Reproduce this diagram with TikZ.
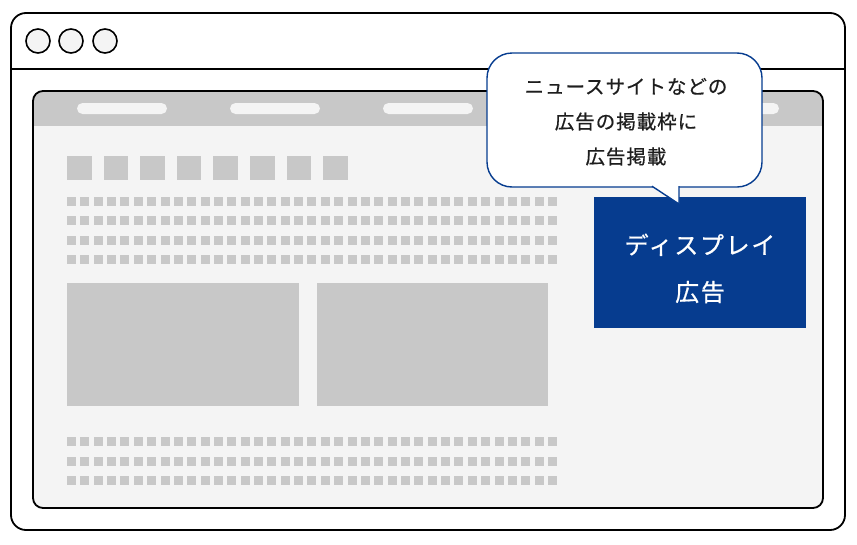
\documentclass[tikz,border=0pt]{standalone}
\usepackage{fontspec}
\setmainfont{Noto Sans CJK JP}[FakeBold=0.6]
\definecolor{adBlue}{HTML}{063C8F}
\definecolor{pageGray}{HTML}{F4F4F4}
\definecolor{blockGray}{HTML}{C8C8C8}
\definecolor{textBlack}{HTML}{1E1E1E}

\begin{document}
\begin{tikzpicture}[x=1pt, y=-1pt, line join=round]

  \tikzstyle{W}=[draw=black, line width=1.8pt]
  \tikzstyle{G}=[fill=blockGray]
  \tikzstyle{AD}=[rectangle, fill=adBlue, minimum width=212pt, minimum height=131pt, inner sep=0pt]
  \tikzstyle{T}=[text=textBlack, align=center, font=\fontsize{19.5pt}{35pt}\selectfont\addfontfeatures{LetterSpace=5}]
  \tikzstyle{TW}=[text=white, align=center, font=\fontsize{24pt}{47pt}\selectfont\addfontfeatures{LetterSpace=7}]
  \tikzstyle{BUB}=[draw=adBlue, line width=1.4pt, fill=white]

  \useasboundingbox (0,0) rectangle (857,544);

  % browser window
  \draw[W, fill=white, rounded corners=15pt] (11,13) rectangle (845,530);
  \draw[W] (11,69) -- (845,69);
  \foreach \x in {38,71,105}
    \draw[line width=1.6pt, fill=pageGray] (\x,41) circle (12);

  % page
  \begin{scope}
    \clip[rounded corners=10pt] (33,91) rectangle (823,508);
    \fill[pageGray] (33,91) rectangle (823,508);
    \fill[G] (33,91) rectangle (823,126);
  \end{scope}
  \draw[W, rounded corners=10pt] (33,91) rectangle (823,508);
  \foreach \x in {77,230,383,536,689}
    \fill[pageGray, rounded corners=5.5pt] (\x,103) rectangle ++(90,11);

  % headline blocks
  \foreach \i in {0,...,7}
    \fill[G] ({67+36.6*\i},156) rectangle ++(24.5,24);

  % text rows
  \foreach \r in {0,...,3}
    \foreach \i in {0,...,36}
      \fill[G] ({67+13.36*\i},{197+19.4*\r}) rectangle ++(9,9);
  \foreach \r in {0,...,2}
    \foreach \i in {0,...,36}
      \fill[G] ({67+13.36*\i},{437+19.5*\r}) rectangle ++(9,9);

  % images
  \fill[G] (67,283) rectangle (299,405.5);
  \fill[G] (317,283) rectangle (548,405.5);

  % display ad
  \node[AD] at (699.5,262.5) (display) {};
  \node[TW] at (700,268.4) (displayText) {ディスプレイ\\広告};

  % speech bubble
  \draw[BUB, rounded corners=25pt] (487,53) rectangle (762,187);
  \fill[white] (652,186.2) -- (679,204) -- (679,186.2) -- cycle;
  \draw[BUB, fill=none] (652,186.2) -- (679,204) -- (679,186.2);
  \node[T] at (626,121.8) (bubbleText) {ニュースサイトなどの\\広告の掲載枠に\\広告掲載};

\end{tikzpicture}
\end{document}
